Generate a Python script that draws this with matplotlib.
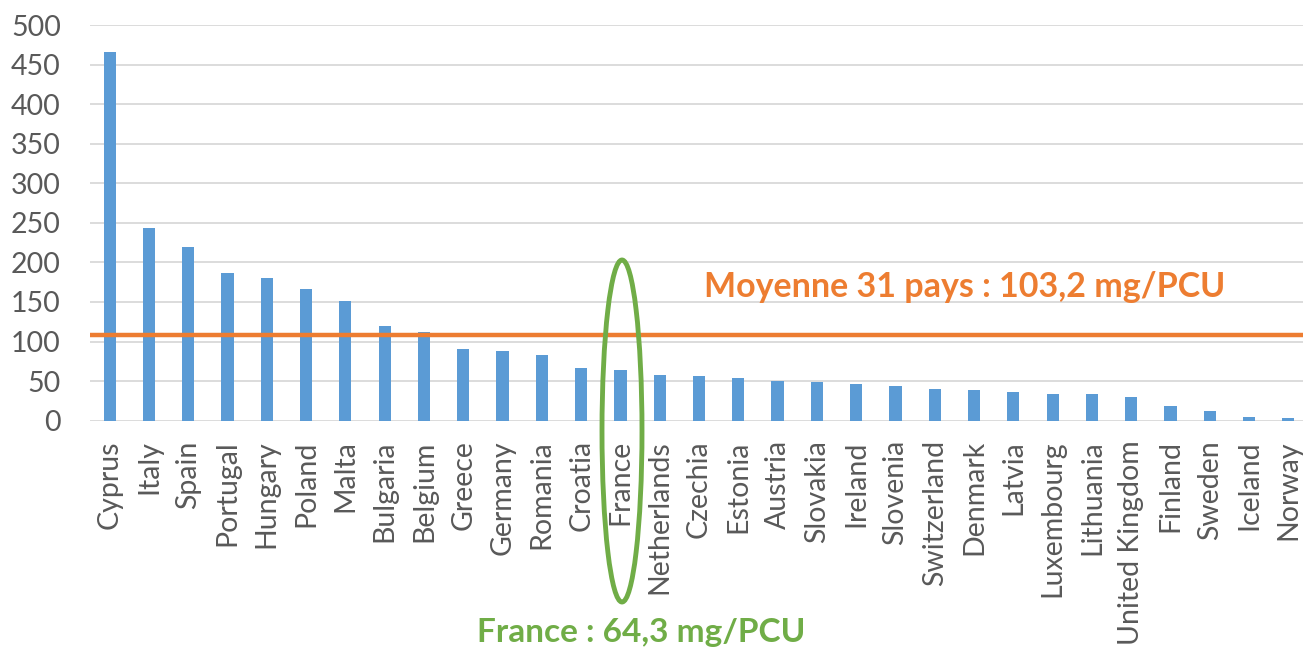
import numpy as np
import matplotlib
matplotlib.use("Agg")
import matplotlib.pyplot as plt
from matplotlib.patches import Ellipse

# --- données (mg/PCU) ---
pays = ["Cyprus", "Italy", "Spain", "Portugal", "Hungary", "Poland", "Malta",
        "Bulgaria", "Belgium", "Greece", "Germany", "Romania", "Croatia", "France",
        "Netherlands", "Czechia", "Estonia", "Austria", "Slovakia", "Ireland",
        "Slovenia", "Switzerland", "Denmark", "Latvia", "Luxembourg", "Lithuania",
        "United Kingdom", "Finland", "Sweden", "Iceland", "Norway"]
valeurs = [465.5, 243.5, 219, 186, 180.7, 167, 150.9,
           119.3, 112.5, 90.6, 88, 82.6, 66.6, 64.3,
           57.7, 56.9, 53.5, 50.2, 49.3, 46,
           43.4, 40, 38.4, 36.3, 33.7, 33.3,
           30, 19, 12.6, 5, 3.4]
moyenne_trait = 108.0
y_ticks = [0, 50, 100, 150, 200, 250, 300, 350, 400, 450, 500]

BLEU = "#5B9BD5"
ORANGE = "#ED7D31"
VERT = "#70AD47"
GRIS = "#595959"

plt.rcParams["font.family"] = ["Lato", "DejaVu Sans"]

W, H = 1303, 649
fig = plt.figure(figsize=(W / 100, H / 100), dpi=100)
# zone de tracé en pixels : x 90 -> 1308, y 25 -> 420.7
x0, x1, ytop, ybot = 90, 1308, 25, 420.7
ax = fig.add_axes([x0 / W, (H - ybot) / H, (x1 - x0) / W, (ybot - ytop) / H])

x = np.arange(len(pays))
ax.bar(x, valeurs, width=0.31, color=BLEU, zorder=2)
ax.axhline(moyenne_trait, color=ORANGE, lw=3.2, zorder=3)

ax.set_xlim(-0.5, len(pays) - 0.5)
ax.set_ylim(0, 500)
ax.set_yticks(y_ticks)
ax.yaxis.grid(True, color="#D9D9D9", lw=1.3, zorder=0)
ax.set_axisbelow(True)
for s in ax.spines.values():
    s.set_visible(False)
ax.tick_params(axis="y", length=0, pad=21, labelsize=20.5, labelcolor=GRIS)
ax.tick_params(axis="x", length=0, pad=14, labelsize=20.5, labelcolor=GRIS)
ax.set_xticks(x)
ax.set_xticklabels(pays, rotation=90, ha="center", va="top")

# annotation moyenne
fig.text(965 / W, 1 - 287 / H, "Moyenne 31 pays : 103,2 mg/PCU", color=ORANGE,
         fontsize=24.5, fontweight="bold", ha="center", va="center")

# ellipse autour de France
ell = Ellipse((622 / W, 1 - 431 / H), 40 / W, 342 / H, transform=fig.transFigure,
              fill=False, edgecolor=VERT, lw=3.5, zorder=5)
fig.add_artist(ell)
fig.text(641 / W, 1 - 647 / H, "France : 64,3 mg/PCU", color=VERT,
         fontsize=24, fontweight="bold", ha="center", va="bottom")

fig.savefig("out.png", dpi=100)
